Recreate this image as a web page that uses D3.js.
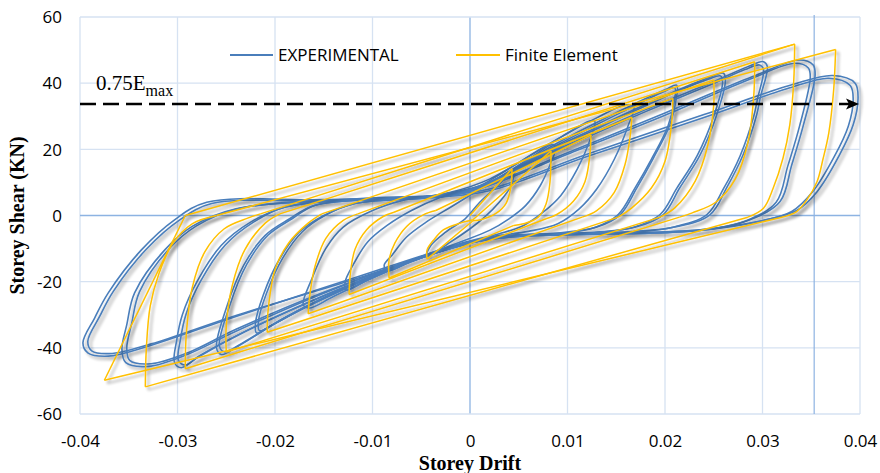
<!DOCTYPE html>
<html>
<head>
<meta charset="utf-8">
<script src="https://cdnjs.cloudflare.com/ajax/libs/d3/7.8.5/d3.min.js"></script>
<style>
  body { margin: 0; background: #fff; }
  svg { display: block; }
</style>
</head>
<body>
<script>
// axis ticks
var xTicks = [-0.04, -0.03, -0.02, -0.01, 0, 0.01, 0.02, 0.03, 0.04];
var xTickLabels = ["-0.04", "-0.03", "-0.02", "-0.01", "0", "0.01", "0.02", "0.03", "0.04"];
var yTicks = [-60, -40, -20, 0, 20, 40, 60];
var yTickLabels = ["-60", "-40", "-20", "0", "20", "40", "60"];

// reference lines
var refShear = 33.7;    // 0.75 Emax
var refDrift = 0.0353;  // vertical marker

// Finite Element: unloading arcs from each positive peak, reloading arcs from each negative peak
var feStart = [[0, 0]];
var feUnload = [
  [[0.0043, 14.1], [0.0042, 8.8], [0.0037, 3.7], [0.0027, 0.7], [0.0012, -1.2], [0.0003, -1.6]],
  [[0.0083, 19.5], [0.0082, 10], [0.0078, 3.5], [0.0070, -0.5], [0.0056, -2.4], [0.0045, -3]],
  [[0.0124, 24.3], [0.0123, 18.5], [0.0118, 10.3], [0.0106, 4.3], [0.0089, 0.3], [0.0078, -1]],
  [[0.0166, 29.7], [0.0164, 23.4], [0.0159, 15.4], [0.0148, 7], [0.0130, 1.5], [0.0115, -0.5]],
  [[0.0208, 35.4], [0.0207, 28.5], [0.0200, 16.4], [0.0186, 8.3], [0.0166, 2.3], [0.0152, -0.5]],
  [[0.0250, 41.0], [0.0250, 33.5], [0.0244, 21.4], [0.0231, 10.4], [0.0210, 2.3], [0.0195, -0.5]],
  [[0.0292, 46.5], [0.0291, 36], [0.0285, 22], [0.0272, 11], [0.0252, 4], [0.0228, 0.8], [0.0215, -0.5]],
  [[0.0333, 51.8], [0.0332, 40.4], [0.0328, 27.4], [0.0321, 17.3], [0.0311, 8.3], [0.0301, 2.2], [0.0285, -0.5]],
  [[0.0375, 50.2], [0.0373, 38], [0.0368, 25], [0.0362, 17], [0.0356, 10.3], [0.0345, 4.5], [0.0335, 1.2], [0.0320, -0.5]]
];
var feReload = [
  [[-0.0044, -13.2], [-0.0044, -10.4], [-0.0037, -7.3], [-0.0027, -4.3], [-0.0010, -2.3], [0.0003, -1.3]],
  [[-0.0083, -18.9], [-0.0083, -13.4], [-0.0077, -8.3], [-0.0065, -3.3], [-0.0048, 0.2], [-0.0035, 1.5]],
  [[-0.0124, -23.9], [-0.0123, -18.4], [-0.0118, -10.3], [-0.0106, -4.3], [-0.0089, -0.3], [-0.0078, 1]],
  [[-0.0166, -29.7], [-0.0164, -23.4], [-0.0159, -15.4], [-0.0148, -7], [-0.0130, -1.5], [-0.0115, 0.5]],
  [[-0.0208, -35.3], [-0.0207, -28.5], [-0.0200, -16.4], [-0.0186, -8.3], [-0.0166, -2.3], [-0.0152, 0.5]],
  [[-0.0250, -41.3], [-0.0250, -33.5], [-0.0244, -21.4], [-0.0231, -10.4], [-0.0210, -2.3], [-0.0195, 0.5]],
  [[-0.0292, -46.3], [-0.0291, -36], [-0.0285, -22], [-0.0272, -11], [-0.0252, -4], [-0.0228, -0.8], [-0.0215, 0.5]],
  [[-0.0333, -51.8], [-0.0332, -40.4], [-0.0328, -27.4], [-0.0319, -17.5], [-0.0305, -8.5], [-0.0285, -2.5], [-0.0260, 0]],
  [[-0.0375, -49.8], [-0.0292, 0]]
];
var feEnd = [[0.0333, 51.8]];

// Experimental loops, first and repeated cycle of each drift level (closed curves)
var exp1 = [[0.001, 4], [0.003, 9.5], [0.0045, 13.5], [0.0042, 9], [0.003, 4], [0.0015, -0.5], [0.0, -4], [-0.002, -8],
  [-0.0045, -12.5], [-0.004, -9], [-0.0025, -5], [-0.0005, -1]];
var exp2 = [[0.0005, 7], [0.003, 11.5], [0.0065, 18], [0.0085, 21.5], [0.0088, 20.5], [0.0083, 16], [0.0072, 9], [0.0057, 3],
  [0.004, -1], [0.002, -4.5], [-0.001, -8], [-0.0055, -13], [-0.0085, -16.8], [-0.0088, -15], [-0.008, -12], [-0.0065, -6.5],
  [-0.0045, -2], [-0.002, 2.5]];
var exp3 = [[-0.003, 5.5], [0.001, 9], [0.005, 16], [0.0095, 24], [0.0122, 28.5], [0.0128, 28.5], [0.0122, 22], [0.011, 14],
  [0.0093, 6], [0.0075, 1], [0.0055, -3], [0.003, -5.5], [-0.001, -8.5], [-0.006, -14], [-0.0105, -19.5], [-0.0127, -22.5],
  [-0.0128, -20], [-0.012, -15], [-0.0105, -8], [-0.0085, -3], [-0.006, 1.5]];
var exp4 = [[-0.007, 4.5], [-0.002, 7], [0.002, 11], [0.008, 21.5], [0.013, 29.5], [0.016, 33.5], [0.0168, 33], [0.0162, 27],
  [0.0148, 17], [0.013, 8], [0.0112, 2], [0.009, -2.5], [0.006, -4.8], [0.002, -6.5], [-0.003, -10.5], [-0.009, -17.5],
  [-0.014, -24.5], [-0.0165, -28], [-0.0171, -27], [-0.0162, -19], [-0.0148, -10], [-0.013, -3.5], [-0.010, 1.5]];
var exp5 = [[-0.012, 3.5], [-0.005, 5.5], [-0.001, 7.5], [0.002, 10], [0.009, 22], [0.016, 32.5], [0.020, 38], [0.0212, 39.4],
  [0.0212, 36], [0.0205, 27.4], [0.0188, 17.3], [0.0171, 8.3], [0.0154, 0.2], [0.013, -3.5], [0.009, -5.3], [0.003, -6.3],
  [-0.002, -9.5], [-0.010, -18.5], [-0.017, -28], [-0.0205, -33.5], [-0.0219, -35.5], [-0.022, -32.5], [-0.0212, -24],
  [-0.0195, -13], [-0.0175, -5], [-0.015, 0]];
var exp5b = [[-0.0118, 3.6], [-0.005, 5.2], [-0.001, 7.2], [0.002, 9.6], [0.009, 21.4], [0.016, 31.9], [0.0198, 37.3], [0.021, 38.6],
  [0.021, 35.4], [0.0203, 27], [0.0186, 17], [0.0169, 8.2], [0.0152, 0.3], [0.0128, -3.6], [0.009, -5.6], [0.003, -6.6],
  [-0.002, -9.8], [-0.010, -18.4], [-0.0168, -27.5], [-0.0202, -32.9], [-0.0216, -34.8], [-0.0217, -32], [-0.0209, -23.7],
  [-0.0192, -12.8], [-0.0172, -4.9], [-0.0148, 0.1]];
var exp6 = [[-0.016, 3], [-0.008, 5.2], [-0.002, 6.5], [0.001, 8.8], [0.008, 19.5], [0.015, 29.5], [0.021, 37.5], [0.0248, 42],
  [0.026, 43], [0.0262, 41], [0.0253, 30.4], [0.0236, 18.3], [0.0215, 8.3], [0.0198, 0.2], [0.017, -3.5], [0.013, -5],
  [0.006, -5.8], [0.001, -7.5], [-0.0045, -12], [-0.012, -21], [-0.019, -31], [-0.0235, -39], [-0.0255, -42], [-0.026, -40],
  [-0.025, -28], [-0.0232, -15], [-0.021, -6], [-0.0185, -1]];
var exp6b = [[-0.0158, 3.2], [-0.008, 5.0], [-0.002, 6.2], [0.001, 8.5], [0.008, 19], [0.015, 29], [0.0208, 36.9], [0.0245, 41.3],
  [0.0257, 42.2], [0.0259, 40.3], [0.025, 30], [0.0233, 18.1], [0.0212, 8.2], [0.0195, 0.3], [0.0167, -3.6], [0.0128, -5.2],
  [0.006, -6.1], [0.001, -7.8], [-0.0045, -12.3], [-0.0119, -20.7], [-0.0188, -30.5], [-0.0232, -38.3], [-0.0252, -41.2],
  [-0.0257, -39.4], [-0.0247, -27.7], [-0.0229, -14.8], [-0.0207, -5.9], [-0.0182, -0.9]];
var exp7 = [[-0.019, 2.5], [-0.010, 5.3], [-0.003, 6.2], [0.001, 8.8], [0.009, 20], [0.018, 32], [0.025, 40.5], [0.0285, 45],
  [0.0301, 46.5], [0.0305, 45], [0.0298, 36], [0.0294, 30.4], [0.028, 18.3], [0.0263, 8.3], [0.0246, 0.2], [0.021, -3.5],
  [0.017, -4.8], [0.010, -5.5], [0.002, -6.8], [-0.0045, -12], [-0.014, -23], [-0.023, -35], [-0.028, -43], [-0.0296, -46],
  [-0.0303, -44.5], [-0.0301, -38], [-0.0295, -30], [-0.028, -20], [-0.0255, -9], [-0.0225, -2]];
var exp7b = [[-0.0188, 2.7], [-0.010, 5.0], [-0.003, 5.9], [0.001, 8.5], [0.009, 19.6], [0.018, 31.4], [0.0249, 39.8], [0.0282, 44.1],
  [0.0297, 45.5], [0.0301, 44.2], [0.0295, 35.4], [0.0291, 30], [0.0277, 18], [0.026, 8.1], [0.0243, 0.3], [0.0207, -3.6],
  [0.0168, -5], [0.010, -5.8], [0.002, -7.1], [-0.0045, -12.3], [-0.0138, -22.8], [-0.0227, -34.5], [-0.0277, -42.3],
  [-0.0292, -45.2], [-0.0299, -43.8], [-0.0297, -37.5], [-0.0291, -29.6], [-0.0276, -19.7], [-0.0251, -8.9], [-0.0222, -2]];
var exp8 = [[-0.024, 2], [-0.012, 5], [-0.003, 6], [0.001, 8.5], [0.010, 19], [0.020, 31], [0.029, 42], [0.0338, 47],
  [0.0352, 45.5], [0.0354, 42.5], [0.0342, 27.4], [0.033, 15.3], [0.0318, 4.2], [0.0287, -1.3], [0.0253, -3.8], [0.020, -5],
  [0.010, -5.5], [0.002, -6.8], [-0.0045, -12], [-0.015, -23.5], [-0.024, -35], [-0.029, -42], [-0.033, -45.6],
  [-0.0353, -44.5], [-0.0357, -40.5], [-0.0352, -33], [-0.0344, -23.4], [-0.0313, -10.4], [-0.0285, -3.3]];
var exp8b = [[-0.0236, 2.2], [-0.012, 4.6], [-0.003, 5.6], [0.001, 8.1], [0.010, 18.5], [0.020, 30.3], [0.0287, 41.2], [0.0333, 46],
  [0.0347, 44.6], [0.0349, 41.8], [0.0338, 27], [0.0326, 15], [0.0314, 4], [0.0284, -1.5], [0.025, -4], [0.020, -5.2],
  [0.010, -5.8], [0.002, -7.1], [-0.0045, -12.3], [-0.015, -23.2], [-0.024, -34.4], [-0.0288, -41.3], [-0.0327, -44.8],
  [-0.0349, -43.8], [-0.0352, -40], [-0.0347, -32.6], [-0.0339, -23.1], [-0.0309, -10.2], [-0.0281, -3.2]];
var exp9 = [[-0.027, 4], [-0.015, 4.8], [-0.004, 5.8], [0.002, 8], [0.012, 18.5], [0.024, 30.5], [0.033, 39.5], [0.0372, 42.3],
  [0.0395, 40], [0.0398, 35.5], [0.0393, 27.4], [0.0379, 18.3], [0.0356, 7.2], [0.0335, 1.5], [0.030, -1.5], [0.0236, -4.3],
  [0.015, -5.3], [0.005, -6], [0.0, -8], [-0.012, -19], [-0.024, -30.5], [-0.033, -39.5], [-0.0371, -42.5], [-0.0392, -41.5],
  [-0.0397, -38.5], [-0.0385, -31], [-0.0371, -23.4], [-0.0337, -10.4], [-0.0303, -1.3]];
var exp9b = [[-0.0265, 3.6], [-0.015, 4.4], [-0.004, 5.4], [0.002, 7.5], [0.012, 17.8], [0.024, 29.6], [0.0328, 38.6], [0.0368, 41.5],
  [0.039, 39.3], [0.0393, 35], [0.0388, 27], [0.0374, 18], [0.0351, 7], [0.033, 1.2], [0.0297, -1.8], [0.0233, -4.6],
  [0.015, -5.6], [0.005, -6.3], [0.0, -8.3], [-0.012, -19.4], [-0.024, -30.2], [-0.0327, -38.8], [-0.0367, -41.7],
  [-0.0388, -40.9], [-0.0392, -38], [-0.038, -30.6], [-0.0366, -23], [-0.0332, -10.2], [-0.0298, -1.4]];
var expLoops = [exp1, exp2, exp3, exp4, exp5, exp5b, exp6, exp6b, exp7, exp7b, exp8, exp8b, exp9, exp9b];

var W = 880, H = 473;
var svg = d3.select("body").append("svg").attr("width", W).attr("height", H);

var x = d3.scaleLinear().domain([-0.04, 0.04]).range([80, 860]);
var y = d3.scaleLinear().domain([-60, 60]).range([414, 17]);

// drop shadow like the spreadsheet chart
var defs = svg.append("defs");
var f = defs.append("filter").attr("id", "shadow")
  .attr("filterUnits", "userSpaceOnUse").attr("x", 0).attr("y", 0).attr("width", W).attr("height", H);
f.append("feGaussianBlur").attr("in", "SourceAlpha").attr("stdDeviation", 1.6).attr("result", "b");
f.append("feOffset").attr("in", "b").attr("dx", 2.5).attr("dy", 3).attr("result", "o");
f.append("feComponentTransfer").attr("in", "o").attr("result", "s")
  .append("feFuncA").attr("type", "linear").attr("slope", 0.33);
var fm = f.append("feMerge");
fm.append("feMergeNode").attr("in", "s");
fm.append("feMergeNode").attr("in", "SourceGraphic");

// gridlines
var grid = svg.append("g");
grid.selectAll(".vg").data(xTicks).enter().append("line")
  .attr("x1", function(d) { return x(d); }).attr("x2", function(d) { return x(d); })
  .attr("y1", y(60)).attr("y2", y(-60))
  .style("stroke", function(d) { return d === 0 ? "#8db3e2" : "#d6e2f2"; })
  .style("stroke-width", 1.3);
grid.selectAll(".hg").data(yTicks).enter().append("line")
  .attr("x1", x(-0.04)).attr("x2", x(0.04))
  .attr("y1", function(d) { return y(d); }).attr("y2", function(d) { return y(d); })
  .style("stroke", function(d) { return d === 0 ? "#8db3e2" : "#d6e2f2"; })
  .style("stroke-width", 1.3);
grid.append("line")
  .attr("x1", x(refDrift)).attr("x2", x(refDrift))
  .attr("y1", y(60) - 2).attr("y2", y(-60))
  .style("stroke", "#8db3e2").style("stroke-width", 1.2);

// axes labels
var xAxis = svg.append("g").attr("transform", "translate(0," + y(-60) + ")")
  .call(d3.axisBottom(x).tickValues(xTicks).tickSize(0).tickFormat(function(d, i) { return xTickLabels[i]; }));
xAxis.select(".domain").remove();
xAxis.selectAll("text").attr("y", 33).attr("dy", 0)
  .style("font-family", "'Open Sans', sans-serif").style("font-size", "17px").style("fill", "#000");

var yAxis = svg.append("g").attr("transform", "translate(" + x(-0.04) + ",0)")
  .call(d3.axisLeft(y).tickValues(yTicks).tickSize(0).tickPadding(18).tickFormat(function(d, i) { return yTickLabels[i]; }));
yAxis.select(".domain").remove();
yAxis.selectAll("text").attr("dy", "0.34em")
  .style("font-family", "'Open Sans', sans-serif").style("font-size", "17px").style("fill", "#000");

// experimental series
var loopLine = d3.line()
  .x(function(d) { return x(d[0]); })
  .y(function(d) { return y(d[1]); })
  .curve(d3.curveCatmullRomClosed.alpha(0.5));

svg.append("g").attr("filter", "url(#shadow)")
  .selectAll("path").data(expLoops).enter().append("path")
  .attr("d", loopLine)
  .style("fill", "none").style("stroke", "#4a7ebb").style("stroke-width", 1.6);

// finite element series
var arcLine = d3.line()
  .x(function(d) { return x(d[0]); })
  .y(function(d) { return y(d[1]); })
  .curve(d3.curveCatmullRom.alpha(0.5));
var straight = d3.line()
  .x(function(d) { return x(d[0]); })
  .y(function(d) { return y(d[1]); });

var pieces = [];
var prev = feStart[0];
feUnload.forEach(function(u, i) {
  pieces.push({ pts: [prev, u[0]], curved: false });
  pieces.push({ pts: u, curved: true });
  var r = feReload[i];
  pieces.push({ pts: [u[u.length - 1], r[0]], curved: false });
  pieces.push({ pts: r, curved: true });
  prev = r[r.length - 1];
});
pieces.push({ pts: [prev, feEnd[0]], curved: false });

svg.append("g").attr("filter", "url(#shadow)")
  .selectAll("path").data(pieces).enter().append("path")
  .attr("d", function(d) { return d.curved ? arcLine(d.pts) : straight(d.pts); })
  .style("fill", "none").style("stroke", "#ffc000").style("stroke-width", 1.5)
  .style("stroke-linejoin", "round");

// 0.75 Emax dashed arrow
var yr = y(refShear);
svg.append("line")
  .attr("x1", x(-0.04)).attr("x2", x(0.04) - 10)
  .attr("y1", yr).attr("y2", yr)
  .style("stroke", "#000").style("stroke-width", 2.6).style("stroke-dasharray", "16,7");
svg.append("path")
  .attr("d", "M" + (x(0.04) - 1) + "," + yr + "L" + (x(0.04) - 14) + "," + (yr - 5.5) + "L" + (x(0.04) - 11) + "," + yr +
    "L" + (x(0.04) - 14) + "," + (yr + 5.5) + "Z")
  .style("fill", "#000");

var lbl = svg.append("text").attr("x", 96).attr("y", 90)
  .style("font-family", "'Liberation Serif', 'Times New Roman', serif").style("font-size", "21px");
lbl.append("tspan").text("0.75E");
lbl.append("tspan").attr("dy", 6).style("font-size", "16px").text("max");

// legend
var legend = svg.append("g");
legend.append("line").attr("x1", 230).attr("x2", 273).attr("y1", 55).attr("y2", 55)
  .style("stroke", "#4a7ebb").style("stroke-width", 1.8);
legend.append("text").attr("x", 278).attr("y", 55).attr("dy", "0.35em")
  .style("font-family", "'Open Sans', sans-serif").style("font-size", "17px").text("EXPERIMENTAL");
legend.append("line").attr("x1", 456).attr("x2", 500).attr("y1", 55).attr("y2", 55)
  .style("stroke", "#ffc000").style("stroke-width", 1.8);
legend.append("text").attr("x", 505).attr("y", 55).attr("dy", "0.35em")
  .style("font-family", "'Open Sans', sans-serif").style("font-size", "17px").text("Finite Element");

// axis titles
svg.append("text").attr("x", (x(-0.04) + x(0.04)) / 2).attr("y", 470)
  .attr("text-anchor", "middle")
  .style("font-family", "'Liberation Serif', 'Times New Roman', serif").style("font-weight", "bold").style("font-size", "20px")
  .text("Storey Drift");
svg.append("text").attr("transform", "translate(24," + y(0) + ") rotate(-90)")
  .attr("text-anchor", "middle")
  .style("font-family", "'Liberation Serif', 'Times New Roman', serif").style("font-weight", "bold").style("font-size", "20px")
  .text("Storey Shear (KN)");
</script>
</body>
</html>
